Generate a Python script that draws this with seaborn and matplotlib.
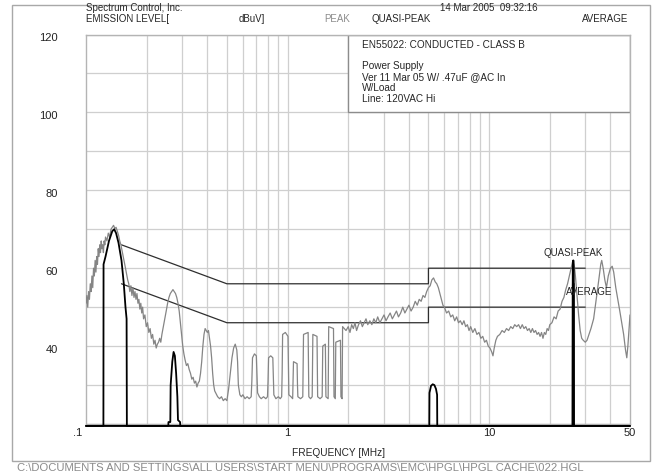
import matplotlib
matplotlib.use("Agg")
import matplotlib.pyplot as plt
import seaborn as sns
import pandas as pd
from matplotlib.patches import Rectangle

# ---------------- data ----------------
peak_freq = [
    0.100, 0.101, 0.102, 0.103, 0.104, 0.105, 0.106, 0.107, 0.108, 0.109,
    0.110, 0.111, 0.112, 0.113, 0.114, 0.115, 0.116, 0.117, 0.118, 0.119,
    0.120, 0.121, 0.122, 0.123, 0.124, 0.125, 0.127, 0.129, 0.131, 0.133,
    0.135, 0.137, 0.139, 0.141, 0.143, 0.145, 0.147, 0.149, 0.151, 0.153,
    0.155, 0.157, 0.159, 0.161, 0.163, 0.165, 0.167, 0.169, 0.171, 0.173,
    0.175, 0.177, 0.179, 0.181, 0.183, 0.185, 0.187, 0.189, 0.191, 0.193,
    0.196, 0.199, 0.202, 0.205, 0.208, 0.211, 0.214, 0.217, 0.220, 0.223,
    0.226, 0.229, 0.232, 0.235, 0.238, 0.241, 0.244, 0.247, 0.250, 0.254,
    0.258, 0.262, 0.266, 0.270, 0.274, 0.278, 0.282, 0.286, 0.290, 0.294,
    0.298, 0.302, 0.306, 0.310, 0.315, 0.320, 0.325, 0.330, 0.335, 0.340,
    0.345, 0.350, 0.355, 0.360, 0.365, 0.370, 0.375, 0.380, 0.385, 0.390,
    0.395, 0.400, 0.405, 0.410, 0.415, 0.420, 0.425, 0.430, 0.435, 0.440,
    0.450, 0.460, 0.470, 0.480, 0.490, 0.500, 0.510, 0.520, 0.530, 0.540,
    0.550, 0.560, 0.565, 0.570, 0.580, 0.590, 0.600, 0.615, 0.630, 0.645,
    0.660, 0.665, 0.670, 0.685, 0.700, 0.705, 0.710, 0.725, 0.740, 0.760,
    0.780, 0.795, 0.800, 0.805, 0.825, 0.845, 0.850, 0.855, 0.875, 0.900,
    0.920, 0.935, 0.940, 0.945, 0.975, 1.005, 1.010, 1.015, 1.040, 1.060,
    1.065, 1.070, 1.115, 1.120, 1.125, 1.160, 1.190, 1.195, 1.200, 1.265,
    1.270, 1.275, 1.300, 1.325, 1.330, 1.335, 1.400, 1.405, 1.410, 1.450,
    1.485, 1.490, 1.495, 1.540, 1.545, 1.550, 1.590, 1.595, 1.600, 1.690,
    1.695, 1.700, 1.725, 1.730, 1.735, 1.830, 1.835, 1.840, 1.865, 1.870,
    1.875, 1.950,
    2.00, 2.04, 2.08, 2.12, 2.16, 2.20, 2.25, 2.30, 2.35, 2.40,
    2.45, 2.50, 2.56, 2.62, 2.68, 2.74, 2.80, 2.87, 2.94, 3.01,
    3.08, 3.15, 3.23, 3.31, 3.39, 3.47, 3.55, 3.64, 3.73, 3.82,
    3.91, 4.00, 4.10, 4.20, 4.30, 4.40, 4.50, 4.60, 4.70, 4.80,
    4.90, 5.00, 5.10, 5.20, 5.30, 5.40, 5.50, 5.60, 5.70, 5.80,
    5.90,
    6.00, 6.15, 6.30, 6.45, 6.60, 6.75, 6.90, 7.05, 7.20, 7.35,
    7.50, 7.65, 7.80, 7.95, 8.10, 8.30, 8.50, 8.70, 8.90, 9.10,
    9.30, 9.50, 9.70, 9.90, 10.10, 10.30, 10.45, 10.60, 10.80, 11.00,
    11.30, 11.60, 11.90, 12.20, 12.50, 12.80, 13.10, 13.40, 13.70, 14.00,
    14.30, 14.60, 14.90, 15.20, 15.50, 15.80, 16.10, 16.40, 16.70, 17.00,
    17.30, 17.60, 17.90, 18.20, 18.50, 18.80, 19.10, 19.40, 19.70, 20.00,
    20.50, 21.00, 21.50, 22.00, 22.50, 23.00, 23.50, 24.00, 24.50, 25.00,
    25.50, 25.90, 26.30, 26.80, 27.30, 27.80, 28.30, 28.80, 29.30, 30.00,
    30.60, 31.30, 32.00, 33.00, 34.00, 35.00, 35.80, 36.20, 36.80, 37.50,
    38.20, 39.00, 40.00, 40.80, 41.50, 42.50, 43.50, 44.50, 45.50, 46.50,
    47.50, 48.20, 48.80, 49.40, 50.00,
]
peak_level = [
    51.0, 53.0, 50.0, 54.0, 52.0, 56.0, 54.0, 58.0, 55.0, 60.0,
    58.0, 62.0, 59.0, 63.0, 61.0, 65.0, 63.0, 66.0, 64.0, 67.0,
    65.0, 66.0, 64.0, 67.0, 66.0, 68.0, 67.0, 69.0, 68.0, 70.0,
    70.5, 71.0, 70.2, 70.5, 69.5, 68.5, 67.0, 66.0, 64.5, 63.0,
    61.5, 60.0, 58.5, 57.0, 56.0, 54.0, 55.5, 53.0, 55.0, 52.5,
    54.0, 52.0, 53.5, 51.0, 52.0, 49.5, 51.0, 48.5, 50.0, 47.0,
    48.0, 45.0, 46.0, 43.5, 44.5, 42.0, 43.0, 40.5, 41.5, 39.5,
    40.5, 41.0, 42.0, 41.0, 43.0, 44.5, 46.0, 47.5, 49.0, 51.0,
    52.5, 53.5, 54.0, 54.5, 54.0, 53.5, 52.5, 51.0, 49.0, 46.0,
    43.0, 40.0, 38.0, 36.5, 35.0, 35.5, 34.0, 33.0, 31.5, 32.0,
    30.5, 31.0, 29.5, 30.5, 31.0, 33.0, 36.0, 40.0, 43.0, 44.5,
    44.0, 43.5, 44.0, 42.0, 40.0, 37.0, 33.0, 30.0, 28.5, 28.0,
    27.0, 26.5, 27.0, 26.0, 26.5, 26.0, 29.0, 33.0, 37.0, 39.5,
    40.5, 39.0, 36.0, 30.0, 27.5, 27.0, 27.5, 26.5, 27.0, 26.5,
    27.0, 31.0, 37.0, 38.0, 37.5, 33.0, 28.0, 27.0, 26.5, 27.0,
    26.5, 27.0, 31.0, 37.0, 37.5, 37.0, 32.0, 27.5, 26.5, 27.0,
    26.5, 27.0, 33.0, 43.0, 43.5, 42.5, 35.0, 27.5, 27.0, 26.5,
    31.0, 36.0, 35.5, 30.0, 27.0, 26.5, 27.0, 35.0, 43.0, 43.5,
    35.0, 27.0, 26.5, 27.0, 36.0, 43.0, 42.5, 34.0, 27.0, 26.5,
    27.0, 33.0, 40.0, 40.5, 33.0, 27.0, 26.5, 36.0, 45.0, 44.5,
    36.0, 27.0, 26.5, 34.0, 41.0, 41.5, 34.0, 27.0, 26.5, 36.0,
    45.0, 44.0,
    45.0, 43.5, 45.5, 44.5, 46.0, 44.0, 45.5, 46.5, 45.0, 46.0,
    47.0, 45.5, 46.5, 45.5, 47.0, 46.0, 47.5, 46.0, 47.0, 48.0,
    46.5, 47.5, 48.5, 47.0, 48.0, 49.0, 47.5, 48.5, 50.0, 48.5,
    49.5, 50.5, 49.0, 50.0, 51.5, 50.5, 52.0, 51.5, 53.0, 52.5,
    54.0, 55.0, 55.5, 57.0, 57.5, 56.5, 56.0, 55.0, 53.5, 52.0,
    50.5,
    50.0, 48.5, 49.0, 47.5, 48.0, 46.5, 47.5, 46.0, 46.5, 45.5,
    46.5, 45.0, 45.5, 44.0, 45.0, 43.5, 44.5, 43.0, 43.5, 42.0,
    42.5, 41.0, 41.5, 40.0, 39.5, 38.5, 37.5, 39.5, 41.5, 42.5,
    43.0, 44.0, 43.5, 44.5, 44.0, 45.0, 44.5, 45.5, 45.0, 45.5,
    44.5, 45.5, 44.5, 45.0, 44.0, 44.5, 43.5, 44.5, 43.5, 44.0,
    43.0, 43.5, 42.5, 43.5, 42.0, 43.5, 43.0, 44.5, 44.0, 45.5,
    46.0, 47.5, 47.0, 49.0, 49.5, 51.5, 52.5, 54.5, 56.0, 58.0,
    60.0, 61.5, 62.0, 58.0, 53.0, 48.0, 44.0, 42.0, 41.5, 41.0,
    41.5, 43.0, 44.5, 47.0, 52.0, 57.0, 61.0, 62.0, 60.0, 57.0,
    55.0, 58.0, 60.0, 60.5, 59.0, 55.0, 52.0, 49.0, 46.0, 43.0,
    39.0, 37.0, 40.0, 44.0, 48.0,
]

qp_freq = [0.100, 0.1220, 0.1222, 0.125, 0.130, 0.135, 0.138, 0.141, 0.145,
           0.150, 0.154, 0.157, 0.1590, 0.1595, 0.256, 0.2565, 0.262, 0.263,
           0.268, 0.272, 0.276, 0.280, 0.284, 0.286, 0.293, 0.2935, 5.05,
           5.06, 5.15, 5.25, 5.35, 5.45, 5.52, 5.53, 25.95, 26.00, 26.15,
           26.30, 26.35, 50.0]
qp_level = [19.5, 19.5, 61.0, 63.0, 67.0, 69.5, 70.0, 69.0, 66.5,
            62.0, 56.0, 50.0, 47.0, 19.5, 19.5, 20.5, 20.5, 30.0,
            36.0, 38.5, 37.5, 33.0, 27.0, 21.0, 20.5, 19.5, 19.5,
            28.0, 29.8, 30.2, 30.0, 29.0, 27.5, 19.5, 19.5, 60.0, 62.0,
            60.0, 19.5, 19.5]

av_freq = [0.100, 26.00, 26.05, 26.25, 26.30, 50.0]
av_level = [19.5, 19.5, 56.0, 56.0, 19.5, 19.5]

qp_limit_freq = [0.15, 0.5, 5.0, 5.0, 30.0]
qp_limit_level = [66.0, 56.0, 56.0, 60.0, 60.0]
av_limit_freq = [0.15, 0.5, 5.0, 5.0, 30.0]
av_limit_level = [56.0, 46.0, 46.0, 50.0, 50.0]

y_tick_values = [40, 60, 80, 100, 120]
x_tick_values = [0.1, 1, 10, 50]
x_tick_labels = [".1", "1", "10", "50"]
x_grid = [0.2, 0.3, 0.4, 0.5, 0.6, 0.7, 0.8, 0.9, 1, 2, 3, 4, 5, 6, 7, 8, 9,
          10, 20, 30, 40]
y_grid = list(range(20, 121, 10))

box_title = "EN55022: CONDUCTED - CLASS B"
box_lines = ["Power Supply", "Ver 11 Mar 05 W/ .47uF @AC In", "W/Load",
             "Line: 120VAC Hi"]

# ---------------- style ----------------
sns.set_style("white")
plt.rcParams['font.family'] = ['Liberation Sans', 'DejaVu Sans']

W, H = 652, 474
fig = plt.figure(figsize=(W / 100, H / 100), dpi=100)
ax = fig.add_axes([86 / W, 1 - 424 / H, 544 / W, (424 - 34.5) / H])
ax.set_xscale('log')
ax.set_xlim(0.1, 50)
ax.set_ylim(20, 120)

ax.set_xticks(x_grid)
ax.set_xticks([], minor=True)
ax.set_yticks(y_grid)
ax.set_xticklabels([])
ax.set_yticklabels([])
ax.tick_params(length=0)
ax.grid(True, color='#cfcfcf', linewidth=0.9)
for s in ax.spines.values():
    s.set_color('#b4b4b4')
    s.set_linewidth(1.0)

# description box
ax.add_patch(Rectangle((2, 100), 48, 20, facecolor='white', edgecolor='#8c8c8c',
                       linewidth=1.0, zorder=2))
ax.text(2.35, 117.3, box_title, fontsize=7.2, va='center', zorder=3)
for i, line in enumerate(box_lines):
    ax.text(2.35, 112.0 - 2.85 * i, line, fontsize=7.2, va='center', zorder=3)

# traces
peak_df = pd.DataFrame({"freq": peak_freq, "level": peak_level})
qp_df = pd.DataFrame({"freq": qp_freq, "level": qp_level})
av_df = pd.DataFrame({"freq": av_freq, "level": av_level})
qpl_df = pd.DataFrame({"freq": qp_limit_freq, "level": qp_limit_level})
avl_df = pd.DataFrame({"freq": av_limit_freq, "level": av_limit_level})

sns.lineplot(data=qpl_df, x="freq", y="level", ax=ax, color='#2e2e2e',
             linewidth=0.9, sort=False, estimator=None, zorder=4)
sns.lineplot(data=avl_df, x="freq", y="level", ax=ax, color='#2e2e2e',
             linewidth=0.9, sort=False, estimator=None, zorder=4)
sns.lineplot(data=peak_df, x="freq", y="level", ax=ax, color='#858585',
             linewidth=0.9, sort=False, estimator=None, zorder=5)
sns.lineplot(data=av_df, x="freq", y="level", ax=ax, color='black',
             linewidth=1.4, sort=False, estimator=None, zorder=6)
sns.lineplot(data=qp_df, x="freq", y="level", ax=ax, color='black',
             linewidth=1.3, sort=False, estimator=None, zorder=6)
for ln in ax.lines[-2:]:
    ln.set_clip_on(False)
ax.set_xlabel("")
ax.set_ylabel("")

# axis labels
for v in y_tick_values:
    ax.text(-0.052, v - 0.9, str(v), transform=ax.get_yaxis_transform(),
            ha='right', va='center', fontsize=8, color='#222222')
for v, lab in zip(x_tick_values, x_tick_labels):
    ha = 'center'
    xx = v
    if lab == ".1":
        ha = 'right'
        xx = 0.096
    ax.text(xx, -0.023, lab, transform=ax.get_xaxis_transform(), ha=ha,
            va='center', fontsize=8, color='#222222')

ax.text(26.0, 63.8, "QUASI-PEAK", ha='center', va='center', fontsize=7, zorder=7)
ax.text(31.5, 54.0, "AVERAGE", ha='center', va='center', fontsize=7, zorder=7)

def ft(x, y, s, **kw):
    fig.text(x / W, 1 - y / H, s, va='center', **kw)

ft(86, 8, "Spectrum Control, Inc.", fontsize=7)
ft(86, 19, "EMISSION LEVEL[", fontsize=7)
ft(239, 19, "dBuV]", fontsize=7)
ft(350, 19, "PEAK", fontsize=7, color='#8c8c8c', ha='right')
ft(372, 19, "QUASI-PEAK", fontsize=7)
ft(628, 19, "AVERAGE", fontsize=7, ha='right')
ft(538, 8, "14 Mar 2005  09:32:16", fontsize=7, ha='right')
ft(338, 453, "FREQUENCY [MHz]", fontsize=7.3, ha='center')
ft(17, 468, "C:\\DOCUMENTS AND SETTINGS\\ALL USERS\\START MENU\\PROGRAMS\\EMC\\HPGL\\HPGL CACHE\\022.HGL",
   fontsize=8.1, color='#8a8a8a')

fig.add_artist(Rectangle((12 / W, 1 - 461 / H), (650 - 12) / W, (461 - 5) / H,
                         transform=fig.transFigure, fill=False,
                         edgecolor='#a8a8a8', linewidth=1.0))

fig.savefig("out.png", dpi=100)
